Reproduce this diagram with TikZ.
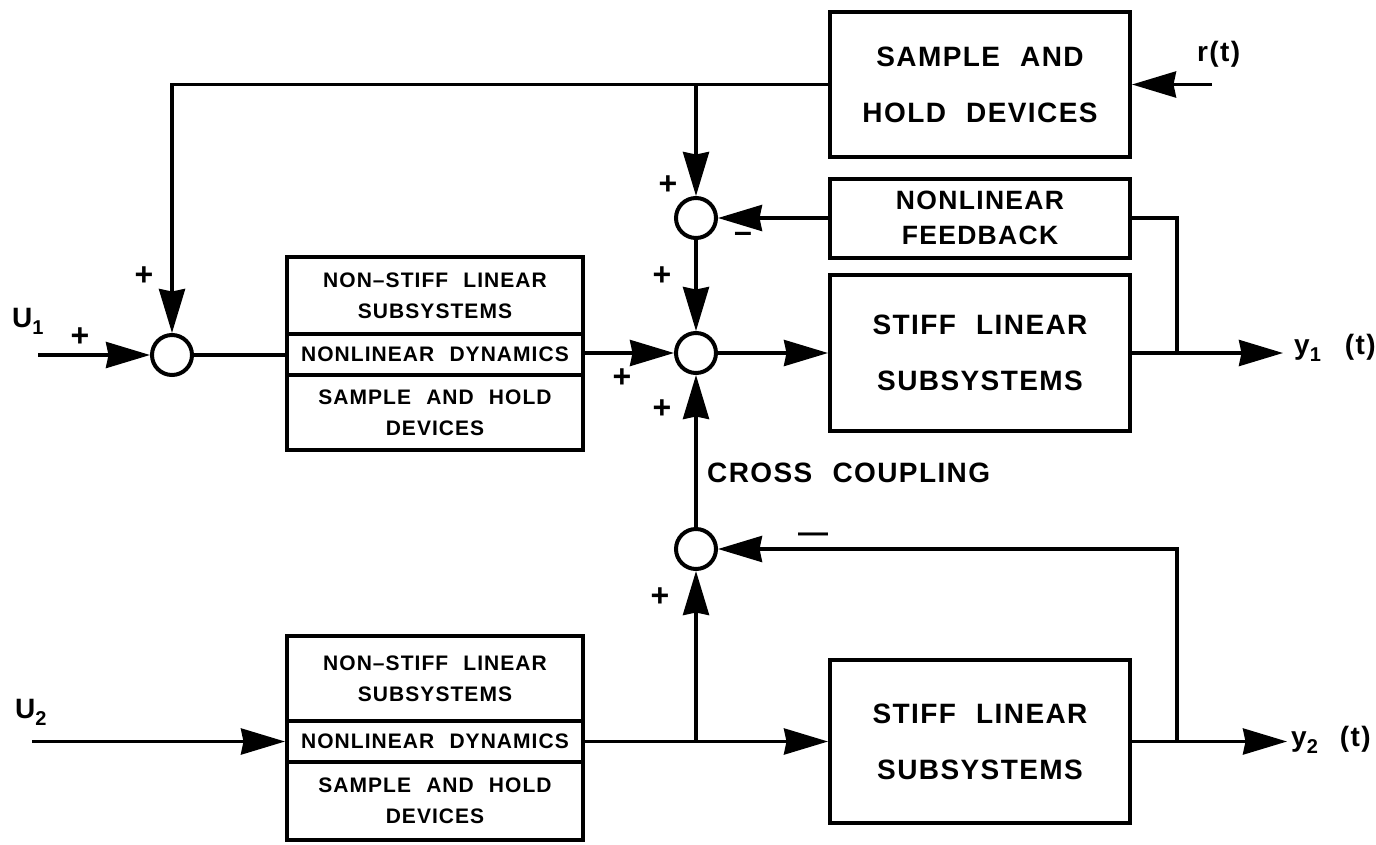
\documentclass[tikz,border=0pt]{standalone}
\usepackage{fontspec}
\setmainfont{Liberation Sans}[WordSpace=2.2, LetterSpace=5]
\usetikzlibrary{arrows.meta}
\newcommand\TxtBig{\fontsize{28}{56}\selectfont\bfseries}
\newcommand\TxtSm{\fontsize{21}{31}\selectfont\bfseries}
\newcommand\TxtMid{\fontsize{26.5}{35}\selectfont\bfseries}
\newcommand\SubTxt[1]{\raisebox{-7pt}{\fontsize{20}{20}\selectfont #1}}
\begin{document}
\begin{tikzpicture}[x=1pt,y=-1pt,
  box/.style={draw, line width=4pt, inner sep=0pt, align=center},
  sumj/.style={circle, draw, line width=4pt, minimum size=40pt, inner sep=0pt},
  ln/.style={line width=3.5pt},
  arr/.style={line width=3.5pt, -{Stealth[length=44pt,width=26pt,inset=2.5pt]}},
  sgn/.style={inner sep=0pt, font=\fontsize{32}{32}\selectfont\bfseries},
  lbl/.style={inner sep=0pt, font=\TxtBig, anchor=base west},
]
\useasboundingbox (0,0) rectangle (1376,844);

% right-hand boxes
\node[box, font=\TxtBig, minimum width=300pt, minimum height=145pt] (sh) at (980,84.5) {SAMPLE AND\\HOLD DEVICES};
\node[box, font=\TxtMid, minimum width=300pt, minimum height=79pt] (nf) at (980,218) {NONLINEAR\\FEEDBACK};
\node[box, font=\TxtBig, minimum width=300pt, minimum height=156pt] (st1) at (980,353) {STIFF LINEAR\\SUBSYSTEMS};
\node[box, font=\TxtBig, minimum width=300pt, minimum height=163pt] (st2) at (980,741.5) {STIFF LINEAR\\SUBSYSTEMS};

% left-hand stacked boxes
\node[box, font=\TxtSm, minimum width=296pt, minimum height=77pt] (la1) at (435,295.5) {NON–STIFF LINEAR\\SUBSYSTEMS};
\node[box, font=\TxtSm, minimum width=296pt, minimum height=41pt] (lb1) at (435,354.5) {NONLINEAR DYNAMICS};
\node[box, font=\TxtSm, minimum width=296pt, minimum height=75pt] (lc1) at (435,412.5) {SAMPLE AND HOLD\\DEVICES};
\node[box, font=\TxtSm, minimum width=296pt, minimum height=85pt] (la2) at (435,678.5) {NON–STIFF LINEAR\\SUBSYSTEMS};
\node[box, font=\TxtSm, minimum width=296pt, minimum height=41pt] (lb2) at (435,741.5) {NONLINEAR DYNAMICS};
\node[box, font=\TxtSm, minimum width=296pt, minimum height=78pt] (lc2) at (435,801) {SAMPLE AND HOLD\\DEVICES};

% summing junctions
\node[sumj] (s0) at (172,355) {};
\node[sumj] (s1) at (696,218) {};
\node[sumj] (s2) at (696,353) {};
\node[sumj] (s3) at (696,549) {};

% free ends and branch points
\coordinate (u1) at (38,355);
\coordinate (u2) at (32,741.5);
\coordinate (rin) at (1212,84.5);
\coordinate (y1) at (1283,353);
\coordinate (y2) at (1287,741.5);
\coordinate (b1) at (1177,353);
\coordinate (b2) at (1177,741.5);
\coordinate (tl) at (172,84.5);
\coordinate (tb) at (696,84.5);
\coordinate (bb) at (696,741.5);

% connectors
\draw[arr] (u1) -- (s0);
\draw[arr] (sh.west) -- (tl) -- (s0);
\draw[arr] (tb) -- (s1);
\draw[ln] (s0) -- (s0 -| lb1.west);
\draw[arr] (s2 -| lb1.east) -- (s2);
\draw[arr] (s2) -- (st1);
\draw[arr] (nf) -- (s1);
\draw[arr] (s1) -- (s2);
\draw[arr] (s3) -- (s2);
\draw[arr] (rin) -- (sh);
\draw[arr] (st1) -- (y1);
\draw[ln] (nf.east) -| (b1);
\draw[arr] (u2) -- (lb2);
\draw[arr] (lb2) -- (st2);
\draw[arr] (bb) -- (s3);
\draw[arr] (st2) -- (y2);
\draw[arr] (b2) |- (s3);

% labels
\node[lbl] (lu1) at (12,327) {U\SubTxt{1}};
\node[lbl] (lu2) at (15,718) {U\SubTxt{2}};
\node[lbl] (ly1) at (1294,354) {y\SubTxt{1}\hspace{24pt}(t)};
\node[lbl] (ly2) at (1291,746) {y\SubTxt{2}\hspace{22pt}(t)};
\node[lbl] (lr) at (1197,61) {r(t)};
\node[lbl] (lcc) at (707,482) {CROSS COUPLING};

% signs
\node[sgn] (p1) at (144,276) {+};
\node[sgn] (p2) at (80,337) {+};
\node[sgn] (p3) at (668,185) {+};
\node[sgn] (m1) at (743,237) {–};
\node[sgn] (p4) at (662,276) {+};
\node[sgn] (p5) at (622,378) {+};
\node[sgn] (p6) at (662,409) {+};
\node[sgn, font=\fontsize{30}{30}\selectfont\bfseries] (m2) at (813,538) {—};
\node[sgn] (p7) at (660,597) {+};
\end{tikzpicture}
\end{document}
